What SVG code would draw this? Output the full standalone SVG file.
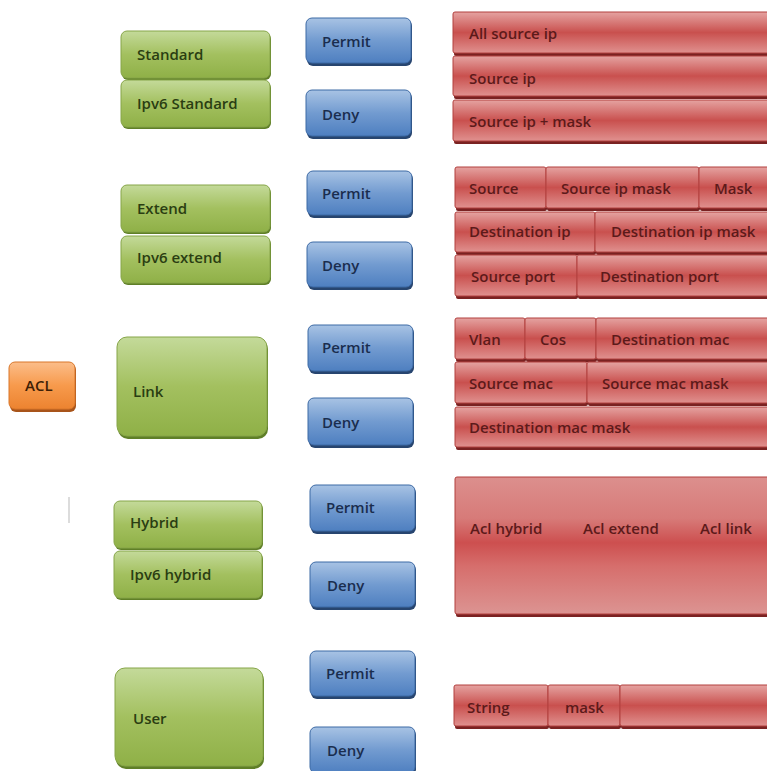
<svg xmlns="http://www.w3.org/2000/svg" width="767" height="771" viewBox="0 0 767 771">
<defs>
<linearGradient id="gG" x1="0" y1="0" x2="0" y2="1">
<stop offset="0" stop-color="#c4da9a"/><stop offset="0.5" stop-color="#a3c05f"/><stop offset="1" stop-color="#8fb047"/>
</linearGradient>
<linearGradient id="gB" x1="0" y1="0" x2="0" y2="1">
<stop offset="0" stop-color="#a8c3e4"/><stop offset="0.5" stop-color="#729bd0"/><stop offset="1" stop-color="#4e7fc0"/>
</linearGradient>
<linearGradient id="gO" x1="0" y1="0" x2="0" y2="1">
<stop offset="0" stop-color="#fbbd8a"/><stop offset="0.5" stop-color="#f79a4c"/><stop offset="1" stop-color="#ec8330"/>
</linearGradient>
<linearGradient id="gR" x1="0" y1="0" x2="0" y2="1">
<stop offset="0" stop-color="#e5a3a1"/><stop offset="0.5" stop-color="#c9504e"/><stop offset="1" stop-color="#e0918f"/>
</linearGradient>
<linearGradient id="gRB" x1="0" y1="0" x2="0" y2="1">
<stop offset="0" stop-color="#dc8f8d"/><stop offset="0.3" stop-color="#d77b79"/><stop offset="0.48" stop-color="#cd4f4f"/><stop offset="0.65" stop-color="#d66e6c"/><stop offset="1" stop-color="#dc9492"/>
</linearGradient>
</defs>
<style>
text{font-family:"Open Sans","Liberation Sans",Arial,sans-serif;font-size:15px;font-weight:600;dominant-baseline:central}
.g{fill:url(#gG);stroke:#86a548;stroke-width:1}
.gs{fill:#5f7f27}
.b{fill:url(#gB);stroke:#3d6aa5;stroke-width:1}
.bs{fill:#27456f}
.o{fill:url(#gO);stroke:#d9772b;stroke-width:1}
.os{fill:#a8541a}
.r{fill:url(#gR);stroke:#b2413f;stroke-width:1}
.rb{fill:url(#gRB);stroke:#b2413f;stroke-width:1}
.rs{fill:#7a2222}
.tg{fill:#2a3d12}
.tb{fill:#1a2d4e}
.to{fill:#3e1f06}
.tr{fill:#5c1a1a}
</style>
<rect width="767" height="771" fill="#ffffff"/>
<g id="connectors">
<line x1="69" y1="497" x2="69" y2="523" stroke="#d0d0d0" stroke-width="1.5"/>
</g>
<g id="acl">
<rect class="os" x="10" y="364" width="66" height="48" rx="6"/>
<rect class="o" x="9" y="362" width="66" height="47" rx="6"/>
<text class="to" x="25" y="385">ACL</text>
</g>
<!-- Section 1 -->
<g id="standard">
<rect class="gs" x="122" y="33" width="149" height="47" rx="6"/>
<rect class="g" x="121" y="31" width="149" height="47" rx="6"/>
<text class="tg" x="137" y="54">Standard</text>
</g>
<g id="ipv6-standard">
<rect class="gs" x="122" y="82" width="149" height="47" rx="6"/>
<rect class="g" x="121" y="80" width="149" height="47" rx="6"/>
<text class="tg" x="137" y="103">Ipv6 Standard</text>
</g>
<g id="permit-1">
<rect class="bs" x="307" y="20" width="105" height="46" rx="6"/>
<rect class="b" x="306" y="18" width="105" height="45" rx="6"/>
<text class="tb" x="322" y="41">Permit</text>
</g>
<g id="deny-1">
<rect class="bs" x="307" y="92" width="105" height="47" rx="6"/>
<rect class="b" x="306" y="90" width="105" height="46" rx="6"/>
<text class="tb" x="322" y="114">Deny</text>
</g>
<g id="fields-1">
<rect class="rs" x="454" y="14" width="320" height="42" rx="2"/>
<rect class="r" x="453" y="12" width="320" height="41" rx="2"/>
<text class="tr" x="469" y="33">All source ip</text>
<rect class="rs" x="454" y="58" width="320" height="41" rx="2"/>
<rect class="r" x="453" y="56" width="320" height="40" rx="2"/>
<text class="tr" x="469" y="78">Source ip</text>
<rect class="rs" x="454" y="102" width="320" height="42" rx="2"/>
<rect class="r" x="453" y="100" width="320" height="41" rx="2"/>
<text class="tr" x="469" y="121">Source ip + mask</text>
</g>
<!-- Section 2 -->
<g id="extend">
<rect class="gs" x="122" y="187" width="149" height="47" rx="6"/>
<rect class="g" x="121" y="185" width="149" height="47" rx="6"/>
<text class="tg" x="137" y="208">Extend</text>
</g>
<g id="ipv6-extend">
<rect class="gs" x="122" y="238" width="149" height="47" rx="6"/>
<rect class="g" x="121" y="236" width="149" height="47" rx="6"/>
<text class="tg" x="137" y="257">Ipv6 extend</text>
</g>
<g id="permit-2">
<rect class="bs" x="308" y="173" width="105" height="45" rx="6"/>
<rect class="b" x="307" y="171" width="105" height="44" rx="6"/>
<text class="tb" x="322" y="193">Permit</text>
</g>
<g id="deny-2">
<rect class="bs" x="308" y="244" width="105" height="46" rx="6"/>
<rect class="b" x="307" y="242" width="105" height="45" rx="6"/>
<text class="tb" x="322" y="265">Deny</text>
</g>
<g id="fields-2">
<rect class="rs" x="456" y="169" width="91" height="42" rx="2"/>
<rect class="r" x="455" y="167" width="91" height="41" rx="2"/>
<text class="tr" x="469" y="188">Source</text>
<rect class="rs" x="547" y="169" width="153" height="42" rx="2"/>
<rect class="r" x="546" y="167" width="153" height="41" rx="2"/>
<text class="tr" x="561" y="188">Source ip mask</text>
<rect class="rs" x="700" y="169" width="80" height="42" rx="2"/>
<rect class="r" x="699" y="167" width="80" height="41" rx="2"/>
<text class="tr" x="714" y="188">Mask</text>
<rect class="rs" x="456" y="214" width="140" height="41" rx="2"/>
<rect class="r" x="455" y="212" width="140" height="40" rx="2"/>
<text class="tr" x="469" y="231">Destination ip</text>
<rect class="rs" x="596" y="214" width="184" height="41" rx="2"/>
<rect class="r" x="595" y="212" width="184" height="40" rx="2"/>
<text class="tr" x="611" y="231">Destination ip mask</text>
<rect class="rs" x="456" y="257" width="122" height="42" rx="2"/>
<rect class="r" x="455" y="255" width="122" height="41" rx="2"/>
<text class="tr" x="471" y="276">Source port</text>
<rect class="rs" x="578" y="257" width="202" height="42" rx="2"/>
<rect class="r" x="577" y="255" width="202" height="41" rx="2"/>
<text class="tr" x="600" y="276">Destination port</text>
</g>
<!-- Section 3 -->
<g id="link">
<rect class="gs" x="118" y="339" width="150" height="100" rx="10"/>
<rect class="g" x="117" y="337" width="150" height="99" rx="10"/>
<text class="tg" x="133" y="391">Link</text>
</g>
<g id="permit-3">
<rect class="bs" x="309" y="327" width="105" height="47" rx="6"/>
<rect class="b" x="308" y="325" width="105" height="46" rx="6"/>
<text class="tb" x="322" y="347">Permit</text>
</g>
<g id="deny-3">
<rect class="bs" x="309" y="400" width="105" height="48" rx="6"/>
<rect class="b" x="308" y="398" width="105" height="47" rx="6"/>
<text class="tb" x="322" y="422">Deny</text>
</g>
<g id="fields-3">
<rect class="rs" x="456" y="320" width="70" height="42" rx="2"/>
<rect class="r" x="455" y="318" width="70" height="41" rx="2"/>
<text class="tr" x="469" y="339">Vlan</text>
<rect class="rs" x="526" y="320" width="71" height="42" rx="2"/>
<rect class="r" x="525" y="318" width="71" height="41" rx="2"/>
<text class="tr" x="540" y="339">Cos</text>
<rect class="rs" x="597" y="320" width="183" height="42" rx="2"/>
<rect class="r" x="596" y="318" width="183" height="41" rx="2"/>
<text class="tr" x="611" y="339">Destination mac</text>
<rect class="rs" x="456" y="364" width="132" height="42" rx="2"/>
<rect class="r" x="455" y="362" width="132" height="41" rx="2"/>
<text class="tr" x="469" y="383">Source mac</text>
<rect class="rs" x="588" y="364" width="192" height="42" rx="2"/>
<rect class="r" x="587" y="362" width="192" height="41" rx="2"/>
<text class="tr" x="602" y="383">Source mac mask</text>
<rect class="rs" x="456" y="409" width="324" height="41" rx="2"/>
<rect class="r" x="455" y="407" width="324" height="40" rx="2"/>
<text class="tr" x="469" y="427">Destination mac mask</text>
</g>
<!-- Section 4 -->
<g id="hybrid">
<rect class="gs" x="115" y="503" width="148" height="47" rx="6"/>
<rect class="g" x="114" y="501" width="148" height="47" rx="6"/>
<text class="tg" x="130" y="522">Hybrid</text>
</g>
<g id="ipv6-hybrid">
<rect class="gs" x="115" y="553" width="148" height="47" rx="6"/>
<rect class="g" x="114" y="551" width="148" height="47" rx="6"/>
<text class="tg" x="130" y="574">Ipv6 hybrid</text>
</g>
<g id="permit-4">
<rect class="bs" x="311" y="487" width="105" height="47" rx="6"/>
<rect class="b" x="310" y="485" width="105" height="46" rx="6"/>
<text class="tb" x="326" y="507">Permit</text>
</g>
<g id="deny-4">
<rect class="bs" x="311" y="564" width="105" height="46" rx="6"/>
<rect class="b" x="310" y="562" width="105" height="45" rx="6"/>
<text class="tb" x="327" y="585">Deny</text>
</g>
<g id="fields-4">
<rect class="rs" x="456" y="479" width="324" height="138" rx="2"/>
<rect class="rb" x="455" y="477" width="324" height="137" rx="2"/>
<text class="tr" x="470" y="528">Acl hybrid</text>
<text class="tr" x="583" y="528">Acl extend</text>
<text class="tr" x="700" y="528">Acl link</text>
</g>
<!-- Section 5 -->
<g id="user">
<rect class="gs" x="116" y="670" width="148" height="99" rx="10"/>
<rect class="g" x="115" y="668" width="148" height="98" rx="10"/>
<text class="tg" x="133" y="718">User</text>
</g>
<g id="permit-5">
<rect class="bs" x="311" y="653" width="105" height="46" rx="6"/>
<rect class="b" x="310" y="651" width="105" height="45" rx="6"/>
<text class="tb" x="326" y="673">Permit</text>
</g>
<g id="deny-5">
<rect class="bs" x="311" y="729" width="105" height="46" rx="6"/>
<rect class="b" x="310" y="727" width="105" height="46" rx="6"/>
<text class="tb" x="327" y="750">Deny</text>
</g>
<g id="fields-5">
<rect class="rs" x="455" y="687" width="94" height="42" rx="2"/>
<rect class="r" x="454" y="685" width="94" height="41" rx="2"/>
<text class="tr" x="467" y="707">String</text>
<rect class="rs" x="549" y="687" width="72" height="42" rx="2"/>
<rect class="r" x="548" y="685" width="72" height="41" rx="2"/>
<text class="tr" x="565" y="707">mask</text>
<rect class="rs" x="621" y="687" width="160" height="42" rx="2"/>
<rect class="r" x="620" y="685" width="160" height="41" rx="2"/>
</g>
</svg>
